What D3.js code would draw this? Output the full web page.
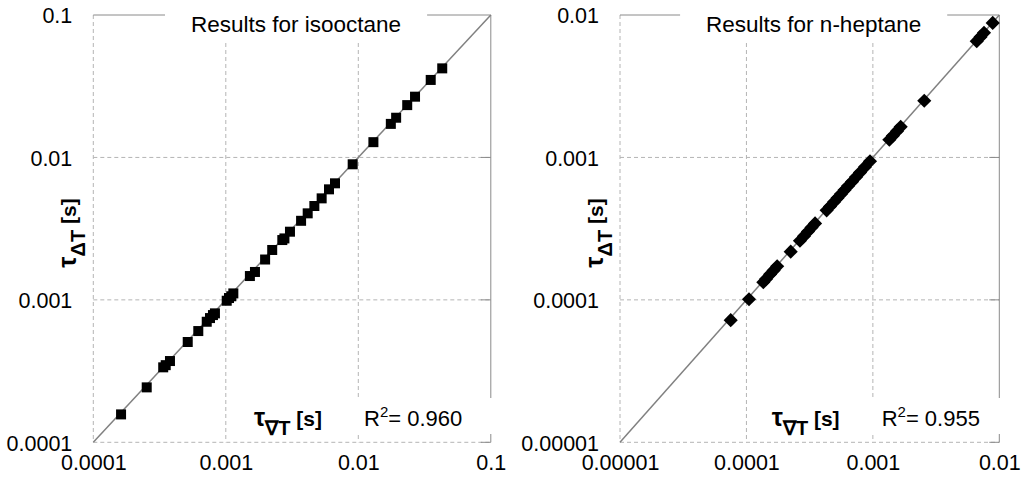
<!DOCTYPE html>
<html>
<head>
<meta charset="utf-8">
<script src="https://cdn.jsdelivr.net/npm/d3@7"></script>
<style>
  html, body { margin: 0; padding: 0; background: #fff; }
  svg { display: block; font-family: "Liberation Sans", Arial, Helvetica, sans-serif; }
</style>
</head>
<body>
<svg id="chart" width="1023" height="485"></svg>
<script>
// ---------- data ----------
const isoTitle = "Results for isooctane";
const isoR2 = "0.960";
const isoX = [1.62e-4, 2.53e-4, 3.37e-4, 3.52e-4, 3.79e-4, 5.16e-4, 6.2e-4, 7.18e-4, 7.6e-4, 8.0e-4, 8.28e-4,
              1.016e-3, 1.057e-3, 1.10e-3, 1.14e-3, 1.52e-3, 1.66e-3, 1.98e-3, 2.24e-3, 2.67e-3, 2.77e-3, 3.05e-3,
              3.70e-3, 4.15e-3, 4.66e-3, 5.29e-3, 6.01e-3, 6.67e-3, 9.07e-3, 1.30e-2, 1.76e-2, 1.93e-2, 2.34e-2,
              2.68e-2, 3.52e-2, 4.30e-2];
const isoY = [1.57e-4, 2.43e-4, 3.36e-4, 3.48e-4, 3.72e-4, 5.06e-4, 6.04e-4, 7.02e-4, 7.45e-4, 7.82e-4, 8.04e-4,
              9.86e-4, 1.03e-3, 1.06e-3, 1.11e-3, 1.47e-3, 1.57e-3, 1.92e-3, 2.24e-3, 2.63e-3, 2.70e-3, 3.01e-3,
              3.59e-3, 4.05e-3, 4.56e-3, 5.16e-3, 5.97e-3, 6.58e-3, 8.95e-3, 1.28e-2, 1.72e-2, 1.90e-2, 2.33e-2,
              2.67e-2, 3.50e-2, 4.22e-2];
const isoTicks = [0.0001, 0.001, 0.01, 0.1];
const isoTickLabels = ["0.0001", "0.001", "0.01", "0.1"];

const hepTitle = "Results for n-heptane";
const hepR2 = "0.955";
const hepX = [7.51e-5, 1.048e-4, 1.36e-4, 1.43e-4, 1.54e-4, 1.64e-4, 1.75e-4, 2.24e-4, 2.65e-4, 2.85e-4, 3.07e-4,
              3.27e-4, 3.49e-4, 4.31e-4, 4.58e-4, 4.93e-4, 5.25e-4, 5.60e-4, 5.97e-4, 6.36e-4, 6.84e-4, 7.36e-4,
              7.91e-4, 8.66e-4, 9.49e-4, 1.35e-3, 1.44e-3, 1.55e-3, 1.66e-3, 2.55e-3, 6.63e-3, 7.10e-3, 7.57e-3, 8.87e-3];
const hepY = [7.2e-5, 1.01e-4, 1.33e-4, 1.40e-4, 1.51e-4, 1.61e-4, 1.72e-4, 2.18e-4, 2.60e-4, 2.80e-4, 3.02e-4,
              3.22e-4, 3.44e-4, 4.25e-4, 4.52e-4, 4.87e-4, 5.18e-4, 5.53e-4, 5.90e-4, 6.29e-4, 6.76e-4, 7.28e-4,
              7.83e-4, 8.58e-4, 9.40e-4, 1.33e-3, 1.42e-3, 1.53e-3, 1.64e-3, 2.50e-3, 6.55e-3, 7.02e-3, 7.50e-3, 8.80e-3];
const hepTicks = [0.00001, 0.0001, 0.001, 0.01];
const hepTickLabels = ["0.00001", "0.0001", "0.001", "0.01"];

// ---------- drawing ----------
const svg = d3.select("#chart");
const FONT = "'Liberation Sans', Arial, Helvetica, sans-serif";

function panel(opts) {
  const {left, right, top, bottom, ticks, labels, xs, ys, title, r2, marker} = opts;
  const dom = [ticks[0], ticks[ticks.length - 1]];
  const x = d3.scaleLog().domain(dom).range([left, right]);
  const y = d3.scaleLog().domain(dom).range([bottom, top]);
  const g = svg.append("g");
  const cx = (left + right) / 2;

  // dashed grid (incl. left and bottom edges)
  g.selectAll(".gx").data(ticks.slice(0, -1)).join("line")
    .attr("x1", d => x(d)).attr("x2", d => x(d)).attr("y1", top).attr("y2", bottom)
    .attr("stroke", "#b4b4b4").attr("stroke-width", 1).attr("stroke-dasharray", "4,3");
  g.selectAll(".gy").data(ticks.slice(0, -1)).join("line")
    .attr("y1", d => y(d)).attr("y2", d => y(d)).attr("x1", left).attr("x2", right)
    .attr("stroke", "#b4b4b4").attr("stroke-width", 1).attr("stroke-dasharray", "4,3");

  // solid top and right borders
  g.append("line").attr("x1", left).attr("x2", right).attr("y1", top).attr("y2", top)
    .attr("stroke", "#8a8a8a").attr("stroke-width", 1);
  g.append("line").attr("x1", right).attr("x2", right).attr("y1", top).attr("y2", bottom)
    .attr("stroke", "#8a8a8a").attr("stroke-width", 1);
  g.selectAll(".rt").data(ticks.slice(0, -1)).join("line")
    .attr("x1", right - 10).attr("x2", right).attr("y1", d => y(d)).attr("y2", d => y(d))
    .attr("stroke", "#8a8a8a").attr("stroke-width", 1);

  // axes
  const ax = g.append("g").attr("transform", `translate(0,${bottom})`)
    .call(d3.axisBottom(x).tickValues(ticks).tickFormat((d, i) => labels[i]).tickSize(0).tickPadding(12.5));
  const ay = g.append("g").attr("transform", `translate(${left},0)`)
    .call(d3.axisLeft(y).tickValues(ticks).tickFormat((d, i) => labels[i]).tickSize(0).tickPadding(21));
  [ax, ay].forEach(a => {
    a.select(".domain").remove();
    a.selectAll("text").attr("font-size", 21.5).attr("fill", "#000").attr("font-family", FONT);
  });
  ay.selectAll("text").attr("dy", "0.37em");

  // diagonal y = x
  g.append("line").attr("x1", x(dom[0])).attr("y1", y(dom[0])).attr("x2", x(dom[1])).attr("y2", y(dom[1]))
    .attr("stroke", "#808080").attr("stroke-width", 1.5);

  // markers
  const pts = xs.map((v, i) => [v, ys[i]]);
  if (marker === "square") {
    g.selectAll(".pt").data(pts).join("rect")
      .attr("x", d => x(d[0]) - 5).attr("y", d => y(d[1]) - 5)
      .attr("width", 10).attr("height", 10).attr("fill", "#000");
  } else {
    const sym = d3.symbol(d3.symbolSquare, 100);
    g.selectAll(".pt").data(pts).join("path")
      .attr("d", sym)
      .attr("transform", d => `translate(${x(d[0])},${y(d[1])}) rotate(45)`)
      .attr("fill", "#000");
  }

  // title with white box
  const tbg = g.append("rect").attr("fill", "#fff");
  const t = g.append("text").attr("x", cx + 4).attr("y", 32).attr("text-anchor", "middle")
    .attr("font-size", 22.5).text(title);
  const bb = t.node().getBBox();
  tbg.attr("x", bb.x - 26).attr("y", 0).attr("width", bb.width + 52).attr("height", 40);

  // bottom text box (x label + R²)
  const bx = cx - 52;
  g.append("rect").attr("x", bx).attr("y", 398).attr("width", right + 6 - bx).attr("height", 36).attr("fill", "#fff");
  const xl = g.append("text").attr("x", cx - 4).attr("y", 426).attr("text-anchor", "middle")
    .attr("font-weight", "bold").attr("font-size", 21);
  xl.append("tspan").attr("font-size", 25).text("τ");
  xl.append("tspan").attr("font-size", 20).attr("dy", 9).text("∇T");
  xl.append("tspan").attr("dy", -9).text(" [s]");

  const rt = g.append("text").attr("x", cx + 72).attr("y", 426).attr("font-size", 22);
  rt.append("tspan").text("R");
  rt.append("tspan").attr("font-size", 15).attr("dy", -9).text("2");
  rt.append("tspan").attr("dy", 9).text("= " + r2);

  // y label
  const yl = g.append("text").attr("transform", `translate(${left - 17},233) rotate(-90)`)
    .attr("text-anchor", "middle").attr("font-weight", "bold").attr("font-size", 21);
  yl.append("tspan").attr("font-size", 25).text("τ");
  yl.append("tspan").attr("font-size", 20).attr("dy", 9).text("ΔT");
  yl.append("tspan").attr("dy", -9).text(" [s]");
}

panel({left: 93.3, right: 490.8, top: 15, bottom: 442.3, ticks: isoTicks, labels: isoTickLabels,
       xs: isoX, ys: isoY, title: isoTitle, r2: isoR2, marker: "square"});
panel({left: 620, right: 999.3, top: 15, bottom: 442.3, ticks: hepTicks, labels: hepTickLabels,
       xs: hepX, ys: hepY, title: hepTitle, r2: hepR2, marker: "diamond"});
</script>
</body>
</html>
